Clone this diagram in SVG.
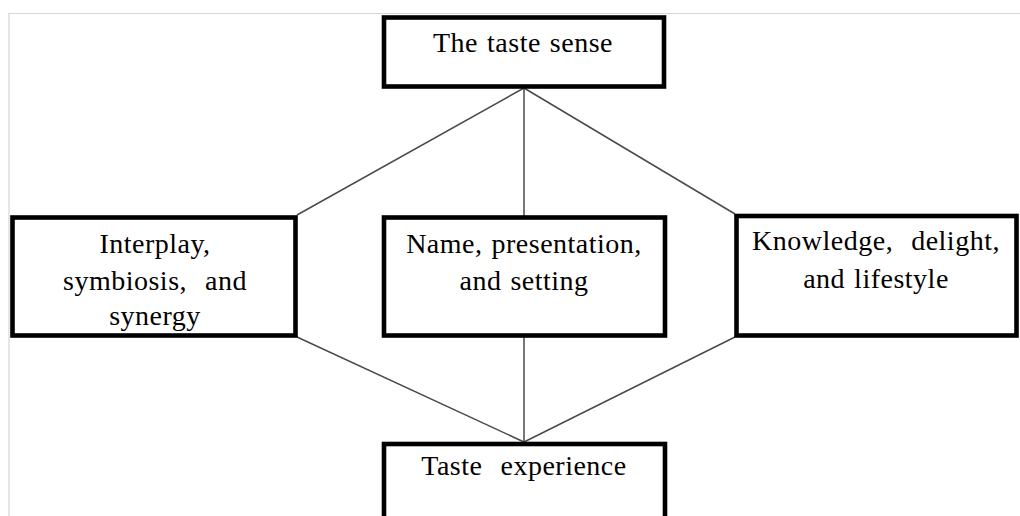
<svg xmlns="http://www.w3.org/2000/svg" width="1020" height="516" viewBox="0 0 1020 516">
  <style>
    .frame { fill: none; stroke: #d6d6d6; stroke-width: 1.2; }
    .box { fill: #ffffff; stroke: #000000; stroke-width: 4.6; }
    .link { stroke: #4a4a4a; stroke-width: 1.5; fill: none; }
    .label { font-family: "Liberation Serif", "Times New Roman", serif; font-size: 28px; letter-spacing: 0.5px; word-spacing: 1.5px; fill: #000000; text-anchor: middle; white-space: pre; }
  </style>
  <rect width="1020" height="516" fill="#ffffff"/>
  <!-- page frame -->
  <path class="frame" d="M9 516 V13.5 H1020"/>

  <!-- connectors -->
  <g id="connectors">
    <line class="link" x1="524" y1="88" x2="297" y2="215"/>
    <line class="link" x1="524" y1="88" x2="524" y2="216"/>
    <line class="link" x1="524" y1="88" x2="735" y2="214"/>
    <line class="link" x1="297" y1="337" x2="524" y2="442"/>
    <line class="link" x1="524" y1="336" x2="524" y2="442"/>
    <line class="link" x1="735" y1="337" x2="524" y2="442"/>
  </g>

  <g id="node-taste-sense">
    <rect class="box" x="384" y="17.5" width="280" height="69"/>
    <text class="label" x="523" y="52">The taste sense</text>
  </g>

  <g id="node-interplay">
    <rect class="box" x="12.5" y="217.5" width="283" height="118"/>
    <text class="label" x="155" y="253">Interplay,</text>
    <text class="label" x="155" y="290">symbiosis,  and</text>
    <text class="label" x="155" y="325">synergy</text>
  </g>

  <g id="node-name">
    <rect class="box" x="384" y="217.5" width="281" height="118"/>
    <text class="label" x="524" y="253">Name, presentation,</text>
    <text class="label" x="524" y="290">and setting</text>
  </g>

  <g id="node-knowledge">
    <rect class="box" x="736.5" y="216" width="280" height="119.5"/>
    <text class="label" x="876" y="250">Knowledge,  delight,</text>
    <text class="label" x="876" y="288">and lifestyle</text>
  </g>

  <g id="node-experience">
    <rect class="box" x="384" y="444" width="281" height="100"/>
    <text class="label" x="524" y="475">Taste  experience</text>
  </g>
</svg>
